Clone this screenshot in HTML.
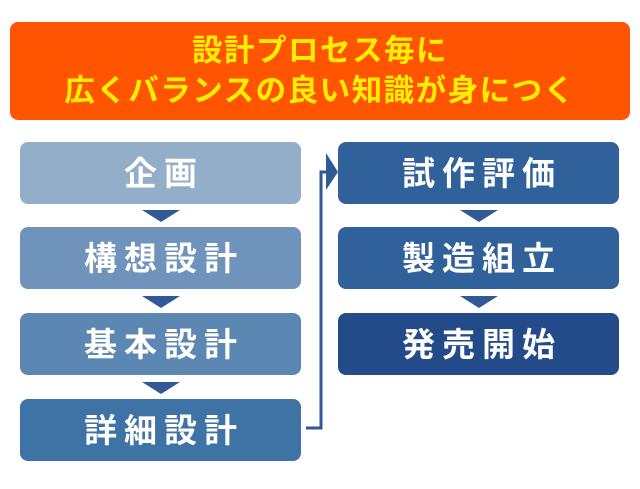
<!DOCTYPE html>
<html><head><meta charset="utf-8"><style>
body{margin:0;width:640px;height:489px;background:#fff;position:relative;overflow:hidden;font-family:"Liberation Sans","Noto Sans CJK JP",sans-serif;font-weight:bold}
.b{position:absolute;border-radius:8px;color:#fff;font-size:33px;letter-spacing:7px;text-indent:7px;display:flex;align-items:center;justify-content:center;line-height:1}
.t{position:absolute;width:0;height:0;border-left:19px solid transparent;border-right:19px solid transparent;border-top:12px solid #2f5a96}
</style></head><body>
<div class="b" style="left:10px;top:22px;width:620px;height:98px;background:#ff5500;color:#ffee00;font-size:30.5px;letter-spacing:1.5px;text-indent:0;flex-direction:column;line-height:40px">
<div>設計プロセス毎に</div><div>広くバランスの良い知識が身につく</div></div>
<div class="b" style="left:20px;top:142px;width:281px;height:62px;background:#92aec9">企画</div>
<div class="b" style="left:20px;top:227px;width:281px;height:62px;background:#6f93ba">構想設計</div>
<div class="b" style="left:20px;top:313px;width:281px;height:62px;background:#5c87b2">基本設計</div>
<div class="b" style="left:20px;top:399px;width:281px;height:62px;background:#3f72a5">詳細設計</div>
<div class="b" style="left:338px;top:142px;width:281px;height:62px;background:#31619a">試作評価</div>
<div class="b" style="left:338px;top:227px;width:281px;height:62px;background:#31619a">製造組立</div>
<div class="b" style="left:338px;top:313px;width:281px;height:62px;background:#234a89">発売開始</div>
<div class="t" style="left:142px;top:210px"></div>
<div class="t" style="left:142px;top:296px"></div>
<div class="t" style="left:142px;top:382px"></div>
<div class="t" style="left:460px;top:210px"></div>
<div class="t" style="left:460px;top:296px"></div>
<svg style="position:absolute;left:0;top:0" width="640" height="489">
<polyline points="306,428 321,428 321,172 328,172" fill="none" stroke="#2f5a96" stroke-width="3"/>
<polygon points="326,153 338,172 326,190" fill="#2f5a96"/>
</svg>
</body></html>
